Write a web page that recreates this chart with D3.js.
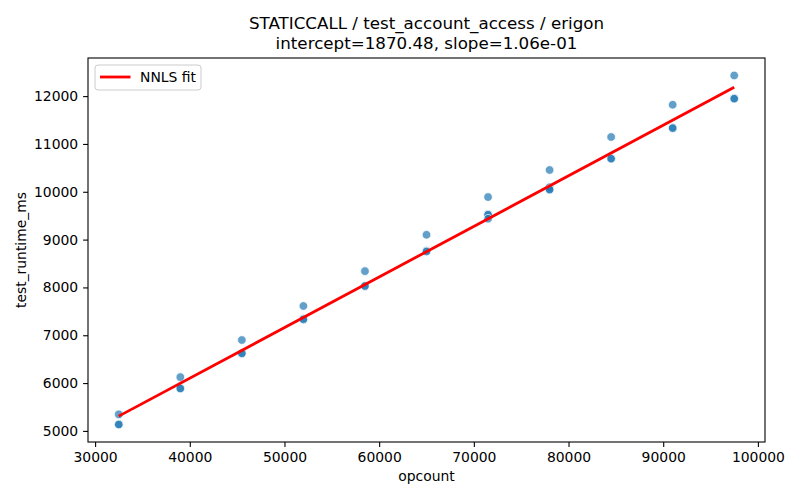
<!DOCTYPE html>
<html>
<head>
<meta charset="utf-8">
<script src="https://cdn.jsdelivr.net/npm/d3@7"></script>
<style>
  body { margin: 0; background: #fff; }
  text { font-family: "DejaVu Sans", sans-serif; fill: #000; }
</style>
</head>
<body>
<svg id="chart" width="800" height="500"></svg>
<script>
// measured samples (several runs per opcount)
var opcount = [
  32500, 32500, 32500,
  39000, 39000, 39000,
  45500, 45500, 45500,
  52000, 52000, 52000,
  58500, 58500, 58500,
  65000, 65000, 65000,
  71500, 71500, 71500, 71500,
  78000, 78000, 78000, 78000,
  84500, 84500, 84500,
  91000, 91000, 91000,
  97500, 97500, 97500
];
var runtimeMs = [
  5345, 5140, 5133,
  6125, 5894, 5886,
  6900, 6628, 6620,
  7612, 7345, 7330,
  8340, 8036, 8028,
  9100, 8765, 8750,
  9890, 9530, 9520, 9436,
  10455, 10095, 10052, 10045,
  11145, 10700, 10690,
  11820, 11340, 11330,
  12432, 11955, 11945
];
var xTicks = [30000, 40000, 50000, 60000, 70000, 80000, 90000, 100000];
var yTicks = [5000, 6000, 7000, 8000, 9000, 10000, 11000, 12000];

var fitIntercept = 1870.48;
var fitSlope = 0.1058;
var titleLines = ["STATICCALL / test_account_access / erigon",
                  "intercept=1870.48, slope=1.06e-01"];

var svg = d3.select("#chart");
var width = +svg.attr("width");
var height = +svg.attr("height");
var margin = {top: 58, right: 35, bottom: 58, left: 88};

// matplotlib style 5% padding around the data
function padded(ext) {
  var d = (ext[1] - ext[0]) * 0.05;
  return [ext[0] - d, ext[1] + d];
}

var x = d3.scaleLinear()
    .domain(padded(d3.extent(opcount)))
    .range([margin.left, width - margin.right]);
var y = d3.scaleLinear()
    .domain(padded(d3.extent(runtimeMs)))
    .range([height - margin.bottom, margin.top]);

var fmt = d3.format("d");

// axes
var xAxis = svg.append("g")
    .attr("transform", "translate(0," + (height - margin.bottom) + ")")
    .call(d3.axisBottom(x).tickValues(xTicks).tickFormat(fmt).tickSize(4.9).tickPadding(4.9));
var yAxis = svg.append("g")
    .attr("transform", "translate(" + margin.left + ",0)")
    .call(d3.axisLeft(y).tickValues(yTicks).tickFormat(fmt).tickSize(4.9).tickPadding(4.9));

[xAxis, yAxis].forEach(function(a) {
  a.select(".domain").remove();
  a.selectAll(".tick line").attr("stroke", "#000").attr("stroke-width", 1.1);
  a.selectAll(".tick text")
      .attr("font-family", "DejaVu Sans")
      .attr("font-size", "13.9px")
      .attr("fill", "#000");
});

// frame
svg.append("rect")
    .attr("x", margin.left)
    .attr("y", margin.top)
    .attr("width", width - margin.left - margin.right)
    .attr("height", height - margin.top - margin.bottom)
    .attr("fill", "none")
    .attr("stroke", "#000")
    .attr("stroke-width", 1.1);

// scatter
var pts = d3.range(opcount.length);
svg.append("g")
  .selectAll("circle")
  .data(pts)
  .enter().append("circle")
    .attr("cx", function(i) { return x(opcount[i]); })
    .attr("cy", function(i) { return y(runtimeMs[i]); })
    .attr("r", 4.3)
    .attr("fill", "#1f77b4")
    .attr("fill-opacity", 0.7)
    .attr("stroke", "#fff")
    .attr("stroke-opacity", 0.7)
    .attr("stroke-width", 1);

// fit line
var xExt = d3.extent(opcount);
var line = d3.line()
    .x(function(d) { return x(d); })
    .y(function(d) { return y(fitIntercept + fitSlope * d); });
svg.append("path")
    .datum(xExt)
    .attr("d", line)
    .attr("fill", "none")
    .attr("stroke", "#ff0000")
    .attr("stroke-width", 2.8);

// legend
var lg = svg.append("g").attr("transform", "translate(" + (margin.left + 7) + "," + (margin.top + 7) + ")");
lg.append("rect")
    .attr("width", 106)
    .attr("height", 25)
    .attr("rx", 3)
    .attr("fill", "#fff")
    .attr("fill-opacity", 0.8)
    .attr("stroke", "#cccccc")
    .attr("stroke-width", 1);
lg.append("line")
    .attr("x1", 5).attr("x2", 35.5)
    .attr("y1", 12).attr("y2", 12)
    .attr("stroke", "#ff0000")
    .attr("stroke-width", 2.8);
lg.append("text")
    .attr("x", 45)
    .attr("y", 17)
    .attr("font-size", "13.9px")
    .text("NNLS fit");

// title + labels
var cx = (margin.left + width - margin.right) / 2;
svg.append("g").selectAll("text")
  .data(titleLines)
  .enter().append("text")
    .attr("x", cx)
    .attr("y", function(d, i) { return 28.5 + i * 20; })
    .attr("text-anchor", "middle")
    .attr("font-size", "16.7px")
    .text(function(d) { return d; });

svg.append("text")
    .attr("x", cx)
    .attr("y", 481)
    .attr("text-anchor", "middle")
    .attr("font-size", "13.9px")
    .text("opcount");

svg.append("text")
    .attr("transform", "translate(26," + ((margin.top + height - margin.bottom) / 2) + ") rotate(-90)")
    .attr("text-anchor", "middle")
    .attr("font-size", "13.9px")
    .text("test_runtime_ms");
</script>
</body>
</html>
